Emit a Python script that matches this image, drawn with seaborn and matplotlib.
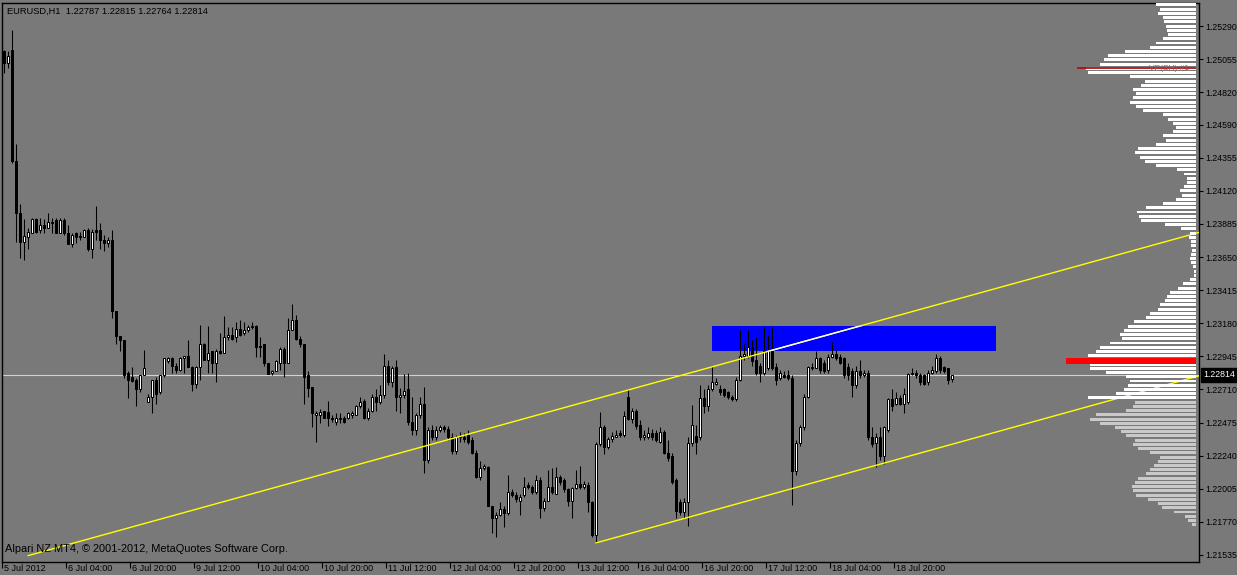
import matplotlib
matplotlib.use("Agg")
import matplotlib.pyplot as plt
import matplotlib.transforms as mtransforms
from matplotlib.patches import Rectangle
import numpy as np
import pandas as pd
import seaborn as sns

sns.set_style("ticks")
plt.rcParams["font.family"] = ["Liberation Sans", "DejaVu Sans"]

BG = "#797979"

symbol = "EURUSD,H1"
last_ohlc = ["1.22787", "1.22815", "1.22764", "1.22814"]
copyright_text = "Alpari NZ MT4, \u00a9 2001-2012, MetaQuotes Software Corp."

# hourly candles, bar 0 = 5 Jul 2012
opens = [
    1.2511, 1.2503, 1.2512, 1.2433, 1.2396, 1.2376, 1.2379, 1.2382, 1.2392, 1.2384,
    1.2388, 1.2386, 1.2390, 1.2391, 1.2382, 1.2391, 1.2382, 1.2374, 1.2382, 1.2380,
    1.2379, 1.2384, 1.2371, 1.2384, 1.2384, 1.2377, 1.2375, 1.2377, 1.2327, 1.2309,
    1.2306, 1.2283, 1.2280, 1.2278, 1.2271, 1.2281, 1.2262, 1.2266, 1.2278, 1.2269,
    1.2281, 1.2291, 1.2293, 1.2288, 1.2285, 1.2293, 1.2295, 1.2287, 1.2275, 1.2287,
    1.2303, 1.2292, 1.2298, 1.2290, 1.2298, 1.2297, 1.2308, 1.2310, 1.2308, 1.2314,
    1.2311, 1.2313, 1.2315, 1.2316, 1.2302, 1.2303, 1.2290, 1.2283, 1.2284, 1.2290,
    1.2300, 1.2290, 1.2313, 1.2320, 1.2307, 1.2303, 1.2281, 1.2273, 1.2253, 1.2253,
    1.2256, 1.2255, 1.2251, 1.2248, 1.2250, 1.2251, 1.2251, 1.2253, 1.2253, 1.2259,
    1.2263, 1.2251, 1.2256, 1.2266, 1.2262, 1.2267, 1.2288, 1.2276, 1.2287, 1.2266,
    1.2267, 1.2271, 1.2248, 1.2242, 1.2253, 1.2261, 1.2221, 1.2242, 1.2237, 1.2242,
    1.2244, 1.2243, 1.2237, 1.2227, 1.2238, 1.2237, 1.2239, 1.2235, 1.2226, 1.2209,
    1.2215, 1.2216, 1.2188, 1.2180, 1.2182, 1.2186, 1.2183, 1.2198, 1.2196, 1.2192,
    1.2196, 1.2203, 1.2202, 1.2198, 1.2207, 1.2187, 1.2192, 1.2202, 1.2197, 1.2209,
    1.2207, 1.2200, 1.2192, 1.2201, 1.2204, 1.2202, 1.2203, 1.2191, 1.2168, 1.2232,
    1.2244, 1.2230, 1.2236, 1.2237, 1.2240, 1.2239, 1.2266, 1.2250, 1.2256, 1.2246,
    1.2237, 1.2237, 1.2240, 1.2240, 1.2234, 1.2241, 1.2226, 1.2224, 1.2207, 1.2191,
    1.2184, 1.2191, 1.2233, 1.2238, 1.2237, 1.2265, 1.2259, 1.2271, 1.2275, 1.2271,
    1.2271, 1.2269, 1.2266, 1.2264, 1.2278, 1.2295, 1.2295, 1.2301, 1.2292, 1.2288,
    1.2283, 1.2286, 1.2299, 1.2287, 1.2279, 1.2281, 1.2281, 1.2279, 1.2213, 1.2233,
    1.2244, 1.2266, 1.2286, 1.2286, 1.2293, 1.2290, 1.2285, 1.2294, 1.2296, 1.2294,
    1.2293, 1.2287, 1.2284, 1.2274, 1.2284, 1.2281, 1.2283, 1.2237, 1.2233, 1.2237,
    1.2224, 1.2242, 1.2264, 1.2261, 1.2265, 1.2261, 1.2262, 1.2282, 1.2283, 1.2281,
    1.2281, 1.2276, 1.2283, 1.2284, 1.2293, 1.2287, 1.2286, 1.22787,
]
highs = [
    1.2512, 1.2511, 1.2526, 1.2445, 1.2403, 1.2392, 1.2386, 1.2393, 1.2393, 1.2393,
    1.2392, 1.2396, 1.2393, 1.2393, 1.2393, 1.2393, 1.2388, 1.2382, 1.2383, 1.2383,
    1.2385, 1.2386, 1.2385, 1.2401, 1.2389, 1.2381, 1.2379, 1.2384, 1.2327, 1.2309,
    1.2306, 1.2284, 1.2287, 1.2279, 1.2281, 1.2299, 1.2268, 1.2278, 1.2280, 1.2281,
    1.2293, 1.2294, 1.2294, 1.2290, 1.2294, 1.2295, 1.2306, 1.2288, 1.2288, 1.2317,
    1.2304, 1.2316, 1.2298, 1.2300, 1.2311, 1.2323, 1.2315, 1.2315, 1.2319, 1.2320,
    1.2319, 1.2317, 1.2319, 1.2317, 1.2308, 1.2303, 1.2290, 1.2285, 1.2292, 1.2301,
    1.2301, 1.2322, 1.2332, 1.2324, 1.2309, 1.2303, 1.2284, 1.2273, 1.2256, 1.2257,
    1.2256, 1.2263, 1.2253, 1.2254, 1.2254, 1.2252, 1.2255, 1.2256, 1.2260, 1.2266,
    1.2264, 1.2258, 1.2268, 1.2271, 1.2274, 1.2296, 1.2292, 1.2288, 1.2292, 1.2272,
    1.2282, 1.2283, 1.2266, 1.2254, 1.2266, 1.2273, 1.2244, 1.2246, 1.2245, 1.2246,
    1.2246, 1.2245, 1.2240, 1.2239, 1.2241, 1.2240, 1.2242, 1.2237, 1.2228, 1.2220,
    1.2218, 1.2217, 1.2188, 1.2184, 1.2191, 1.2188, 1.2210, 1.2200, 1.2198, 1.2197,
    1.2209, 1.2205, 1.2203, 1.2210, 1.2209, 1.2194, 1.2214, 1.2215, 1.2216, 1.2210,
    1.2208, 1.2201, 1.2202, 1.2214, 1.2217, 1.2206, 1.2205, 1.2192, 1.2234, 1.2255,
    1.2246, 1.2237, 1.2241, 1.2242, 1.2242, 1.2256, 1.2271, 1.2258, 1.2257, 1.2249,
    1.2242, 1.2244, 1.2243, 1.2242, 1.2244, 1.2242, 1.2235, 1.2226, 1.2208, 1.2193,
    1.2194, 1.2237, 1.2260, 1.2246, 1.2274, 1.2271, 1.2274, 1.2288, 1.2279, 1.2274,
    1.2272, 1.2270, 1.2267, 1.2280, 1.2313, 1.2303, 1.2313, 1.2306, 1.2308, 1.2290,
    1.2315, 1.2310, 1.2315, 1.2290, 1.2285, 1.2284, 1.2285, 1.2281, 1.2235, 1.2246,
    1.2268, 1.2288, 1.2290, 1.2298, 1.2294, 1.2292, 1.2296, 1.2305, 1.2299, 1.2296,
    1.2294, 1.2290, 1.2286, 1.2288, 1.2292, 1.2285, 1.2285, 1.2244, 1.2240, 1.2244,
    1.2245, 1.2265, 1.2271, 1.2269, 1.2267, 1.2272, 1.2283, 1.2286, 1.2285, 1.2283,
    1.2282, 1.2285, 1.2288, 1.2296, 1.2295, 1.2288, 1.2286, 1.22815,
]
lows = [
    1.2496, 1.2499, 1.2432, 1.2376, 1.2364, 1.2363, 1.2371, 1.2382, 1.2382, 1.2382,
    1.2382, 1.2386, 1.2382, 1.2382, 1.2382, 1.2381, 1.2374, 1.2372, 1.2375, 1.2377,
    1.2379, 1.2369, 1.2364, 1.2377, 1.2371, 1.2369, 1.2372, 1.2322, 1.2303, 1.2298,
    1.2279, 1.2265, 1.2276, 1.2259, 1.2269, 1.2281, 1.2262, 1.2254, 1.2261, 1.2268,
    1.2280, 1.2290, 1.2283, 1.2283, 1.2284, 1.2283, 1.2287, 1.2270, 1.2272, 1.2278,
    1.2292, 1.2283, 1.2283, 1.2276, 1.2296, 1.2297, 1.2306, 1.2306, 1.2305, 1.2309,
    1.2310, 1.2312, 1.2314, 1.2294, 1.2294, 1.2288, 1.2282, 1.2281, 1.2284, 1.2285,
    1.2280, 1.2290, 1.2313, 1.2306, 1.2301, 1.2261, 1.2266, 1.2244, 1.2234, 1.2247,
    1.2251, 1.2245, 1.2248, 1.2246, 1.2247, 1.2247, 1.2250, 1.2251, 1.2253, 1.2258,
    1.2250, 1.2249, 1.2255, 1.2256, 1.2261, 1.2265, 1.2274, 1.2273, 1.2256, 1.2254,
    1.2265, 1.2246, 1.2239, 1.2239, 1.2251, 1.2212, 1.2219, 1.2235, 1.2235, 1.2241,
    1.2241, 1.2235, 1.2225, 1.2225, 1.2234, 1.2234, 1.2232, 1.2225, 1.2208, 1.2207,
    1.2214, 1.2188, 1.2169, 1.2166, 1.2181, 1.2173, 1.2182, 1.2195, 1.2191, 1.2182,
    1.2195, 1.2200, 1.2197, 1.2197, 1.2180, 1.2185, 1.2192, 1.2197, 1.2197, 1.2203,
    1.2198, 1.2188, 1.2180, 1.2200, 1.2200, 1.2200, 1.2184, 1.2166, 1.2162, 1.2231,
    1.2225, 1.2229, 1.2234, 1.2237, 1.2237, 1.2237, 1.2249, 1.2247, 1.2243, 1.2235,
    1.2235, 1.2236, 1.2235, 1.2234, 1.2233, 1.2225, 1.2220, 1.2204, 1.2180, 1.2182,
    1.2180, 1.2174, 1.2231, 1.2225, 1.2235, 1.2254, 1.2256, 1.2270, 1.2274, 1.2267,
    1.2266, 1.2264, 1.2263, 1.2263, 1.2277, 1.2292, 1.2293, 1.2288, 1.2281, 1.2276,
    1.2281, 1.2285, 1.2285, 1.2274, 1.2278, 1.2279, 1.2278, 1.2189, 1.2210, 1.2231,
    1.2242, 1.2265, 1.2285, 1.2286, 1.2283, 1.2283, 1.2283, 1.2293, 1.2292, 1.2289,
    1.2279, 1.2278, 1.2266, 1.2272, 1.2279, 1.2280, 1.2235, 1.2230, 1.2216, 1.2221,
    1.2218, 1.2241, 1.2256, 1.2260, 1.2260, 1.2254, 1.2261, 1.2281, 1.2279, 1.2274,
    1.2274, 1.2274, 1.2282, 1.2283, 1.2283, 1.2283, 1.2275, 1.22764,
]
closes = [
    1.2503, 1.2508, 1.2433, 1.2396, 1.2376, 1.2380, 1.2383, 1.2392, 1.2383, 1.2388,
    1.2386, 1.2390, 1.2389, 1.2382, 1.2391, 1.2382, 1.2374, 1.2381, 1.2379, 1.2379,
    1.2384, 1.2371, 1.2383, 1.2383, 1.2377, 1.2375, 1.2377, 1.2327, 1.2309, 1.2306,
    1.2281, 1.2278, 1.2277, 1.2271, 1.2281, 1.2286, 1.2266, 1.2278, 1.2268, 1.2281,
    1.2293, 1.2293, 1.2288, 1.2285, 1.2293, 1.2295, 1.2287, 1.2275, 1.2287, 1.2303,
    1.2292, 1.2297, 1.2290, 1.2298, 1.2297, 1.2308, 1.2310, 1.2307, 1.2314, 1.2310,
    1.2313, 1.2315, 1.2316, 1.2301, 1.2301, 1.2290, 1.2282, 1.2284, 1.2291, 1.2300,
    1.2290, 1.2313, 1.2320, 1.2307, 1.2303, 1.2280, 1.2272, 1.2254, 1.2254, 1.2255,
    1.2251, 1.2251, 1.2250, 1.2251, 1.2251, 1.2248, 1.2254, 1.2254, 1.2259, 1.2262,
    1.2251, 1.2256, 1.2266, 1.2262, 1.2267, 1.2288, 1.2276, 1.2286, 1.2266, 1.2267,
    1.2270, 1.2248, 1.2242, 1.2253, 1.2261, 1.2221, 1.2242, 1.2237, 1.2242, 1.2244,
    1.2243, 1.2237, 1.2227, 1.2237, 1.2237, 1.2236, 1.2234, 1.2226, 1.2209, 1.2215,
    1.2217, 1.2188, 1.2180, 1.2182, 1.2186, 1.2183, 1.2198, 1.2196, 1.2193, 1.2195,
    1.2202, 1.2202, 1.2198, 1.2207, 1.2187, 1.2192, 1.2202, 1.2198, 1.2209, 1.2205,
    1.2200, 1.2192, 1.2201, 1.2204, 1.2202, 1.2204, 1.2191, 1.2168, 1.2232, 1.2244,
    1.2230, 1.2236, 1.2238, 1.2239, 1.2239, 1.2252, 1.2250, 1.2256, 1.2245, 1.2237,
    1.2239, 1.2240, 1.2237, 1.2235, 1.2241, 1.2226, 1.2222, 1.2205, 1.2185, 1.2184,
    1.2191, 1.2233, 1.2246, 1.2234, 1.2265, 1.2259, 1.2271, 1.2276, 1.2276, 1.2269,
    1.2267, 1.2266, 1.2264, 1.2278, 1.2295, 1.2296, 1.2301, 1.2291, 1.2283, 1.2283,
    1.2298, 1.2299, 1.2286, 1.2278, 1.2283, 1.2280, 1.2279, 1.2213, 1.2233, 1.2244,
    1.2266, 1.2287, 1.2287, 1.2293, 1.2285, 1.2284, 1.2294, 1.2296, 1.2293, 1.2290,
    1.2281, 1.2281, 1.2274, 1.2284, 1.2281, 1.2283, 1.2237, 1.2232, 1.2237, 1.2224,
    1.2244, 1.2264, 1.2259, 1.2265, 1.2261, 1.2268, 1.2282, 1.2283, 1.2281, 1.2276,
    1.2275, 1.2283, 1.2285, 1.2293, 1.2285, 1.2284, 1.2278, 1.22814,
]

time_ticks = [0, 16, 32, 48, 64, 80, 96, 112, 128, 144, 159, 175, 191, 207, 223]
time_labels = ["5 Jul 2012", "6 Jul 04:00", "6 Jul 20:00", "9 Jul 12:00", "10 Jul 04:00",
               "10 Jul 20:00", "11 Jul 12:00", "12 Jul 04:00", "12 Jul 20:00", "13 Jul 12:00",
               "16 Jul 04:00", "16 Jul 20:00", "17 Jul 12:00", "18 Jul 04:00", "18 Jul 20:00"]
price_labels = ["1.25290", "1.25055", "1.24820", "1.24590", "1.24355", "1.24120", "1.23885",
                "1.23650", "1.23415", "1.23180", "1.22945", "1.22710", "1.22475", "1.22240",
                "1.22005", "1.21770", "1.21535"]
price_ticks = [float(p) for p in price_labels]

# channel (two parallel yellow rays), anchors as (bar, price)
upper_bars, upper_prices = [6, 237], [1.2153, 1.2334]
lower_bars, lower_prices = [148, 237], [1.2162, 1.2232]

# supply zone rectangle
zone_bars = [177, 248]
zone_prices = [1.2298, 1.2316]

bid = 1.22814

# volume profile on the right edge (top row price, row step, volume per row)
profile_top = 1.2544
profile_step = 0.0003
profile_volume = [
    40, 36, 38, 33, 32, 30, 29, 28, 33, 40,
    46, 71, 88, 92, 96, 110, 108, 66, 51, 55,
    63, 60, 63, 66, 60, 53, 33, 28, 23, 20,
    23, 33, 30, 40, 58, 61, 56, 51, 40, 19,
    12, 9, 9, 12, 16, 14, 20, 33, 50, 59,
    57, 55, 31, 15, 6, 7, 5, 5, 4, 5,
    6, 5, 3, 2, 2, 6, 13, 18, 26, 29,
    31, 36, 38, 46, 50, 62, 68, 72, 76, 74,
    86, 96, 100, 108, 126, 106, 106, 90, 70, 66,
    68, 72, 80, 108, 61, 63, 70, 100, 106, 96,
    81, 75, 70, 61, 63, 58, 46, 36, 38, 42,
    46, 50, 58, 61, 64, 63, 60, 48, 38, 34,
    22, 11, 8, 4,
]
value_area_low = 1.2263
poc_price, poc_volume = 1.2291, 130
vpoc_level = 1.2499
vpoc_label = "VP(SH) #1"

W, H = 1237, 575
fig = plt.figure(figsize=(W / 100, H / 100), dpi=100, facecolor=BG)
ax = fig.add_axes([2 / W, 13 / H, 1197 / W, 559 / H])
ax.set_facecolor(BG)

o = np.array(opens)
h = np.array(highs)
l = np.array(lows)
c = np.array(closes)
idx = np.arange(len(o))
bull = c >= o
body_lo = np.minimum(o, c)
body_h = np.maximum(np.abs(c - o), 0.00004)

# bid line + zone in background
ax.axhline(bid, color="#d2d2d2", lw=0.8, zorder=1)
zone = Rectangle((zone_bars[0], zone_prices[0]), zone_bars[1] - zone_bars[0],
                 zone_prices[1] - zone_prices[0], facecolor="#0000ff", edgecolor="none", zorder=1.5)
ax.add_patch(zone)

# candles
ax.vlines(idx, l, h, color="black", lw=0.75, zorder=3)
ax.bar(idx[bull], body_h[bull], bottom=body_lo[bull], width=0.5, color="white",
       edgecolor="black", linewidth=0.72, zorder=4)
ax.bar(idx[~bull], body_h[~bull], bottom=body_lo[~bull], width=0.5, color="black",
       edgecolor="black", linewidth=0.72, zorder=4)

# channel rays, extended to the right edge
x_right = 298.9
rows = []
for name, bx, py in [("upper", upper_bars, upper_prices), ("lower", lower_bars, lower_prices)]:
    slope = (py[1] - py[0]) / (bx[1] - bx[0])
    rows.append({"bar": bx[0], "price": py[0], "line": name})
    rows.append({"bar": x_right, "price": py[0] + slope * (x_right - bx[0]), "line": name})
lines = pd.DataFrame(rows)
sns.lineplot(data=lines, x="bar", y="price", units="line", estimator=None,
             color="#ffff00", linewidth=1.0, legend=False, ax=ax, zorder=5)
up = lines[lines["line"] == "upper"]
inside, = ax.plot(up["bar"], up["price"], color="white", lw=1.0, zorder=5.5)
inside.set_clip_path(zone)

# volume profile
right_edge = 298.2
pv = np.array(profile_volume)
pp = profile_top - profile_step * np.arange(len(pv))
pw = pv / 4.0
pcol = np.where(pp >= value_area_low, "white", "#c9c9c9")
ax.barh(pp, pw, left=right_edge - pw, height=0.00021, color=pcol, linewidth=0, zorder=6)
ax.barh(poc_price, poc_volume / 4.0, left=right_edge - poc_volume / 4.0, height=0.00045,
        color="#ff0000", linewidth=0, zorder=6.5)
ax.hlines(vpoc_level, 268.3, right_edge, color="#b01010", lw=1.3, zorder=6.5)
ax.text(296.5, vpoc_level, vpoc_label, ha="right", va="center", fontsize=6,
        color="#b05050", zorder=7)

ax.set_xlim(-0.325, 298.9)
ax.set_ylim(1.21485, 1.25454)
ax.set_xlabel("")
ax.set_ylabel("")

for sp in ax.spines.values():
    sp.set_visible(True)
    sp.set_color("black")
    sp.set_linewidth(1.0)

ax.yaxis.tick_right()
ax.set_yticks(price_ticks)
ax.set_yticklabels(price_labels)
ax.tick_params(axis="y", direction="out", length=3, width=0.8, pad=1.2,
               labelsize=6.3, colors="black")

ax.set_xticks([t - 0.5 for t in time_ticks])
ax.set_xticklabels(time_labels, ha="left")
ax.tick_params(axis="x", direction="out", length=4, width=0.8, pad=-2.5,
               labelsize=6.5, colors="black")
shift = mtransforms.ScaledTranslation(2 / 100, 0, fig.dpi_scale_trans)
for lab in ax.get_xticklabels():
    lab.set_transform(lab.get_transform() + shift)

# current bid price tag on the scale
tag = mtransforms.blended_transform_factory(ax.transAxes, ax.transData)
ax.text(1.0, bid, last_ohlc[3], transform=tag + mtransforms.ScaledTranslation(4 / 100, 0, fig.dpi_scale_trans),
        ha="left", va="center", fontsize=6.3, color="white", clip_on=False,
        bbox=dict(boxstyle="square,pad=0.25", facecolor="black", edgecolor="black"))

fig.text(7 / W, 1 - 11 / H, symbol + "  " + " ".join(last_ohlc), ha="left", va="center",
         fontsize=6.7, color="black")
fig.text(5 / W, 1 - 549 / H, copyright_text, ha="left", va="center", fontsize=7.9, color="black")

fig.savefig("out.png", dpi=100, facecolor=BG)
